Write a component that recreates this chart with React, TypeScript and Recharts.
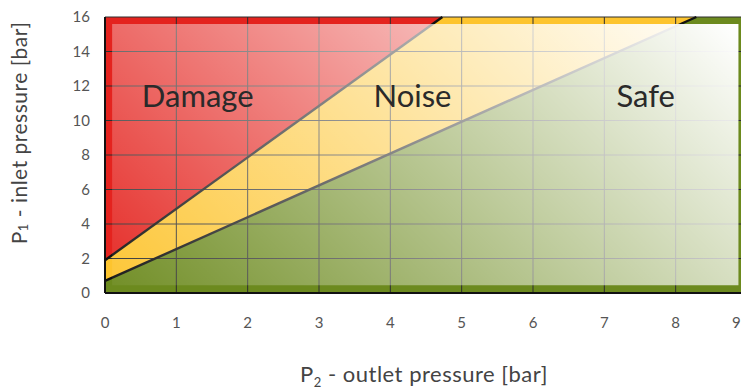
import {
  ComposedChart,
  Area,
  Line,
  XAxis,
  YAxis,
  CartesianGrid,
  ReferenceArea,
  ReferenceDot,
} from 'recharts'

// P2 (outlet) ticks and P1 (inlet) ticks
const xTicks = [0, 1, 2, 3, 4, 5, 6, 7, 8, 9]
const yTicks = [0, 2, 4, 6, 8, 10, 12, 14, 16]

// border between damage and noise zone
const damageEdge = [
  { p2: 0, p1: 1.9 },
  { p2: 4.73, p1: 16 },
]
// border between noise and safe zone
const safeEdge = [
  { p2: 0, p1: 0.7 },
  { p2: 8.29, p1: 16 },
]
// top right corner of the plot, closes the zone fills
const corner = { p2: 9, p1: 16 }

const zoneNames = ['Damage', 'Noise', 'Safe']
const zoneX = [1.3, 4.31, 7.58]
const zoneY = [11.4, 11.4, 11.4]

const RED = '#e4231e'
const YELLOW = '#fdc42e'
const GREEN = '#6c8a1e'

function XTick({ x, y, payload }: any) {
  // last label is pulled inside so it stays on the page
  const last = payload.value === 9
  return (
    <text
      x={last ? x - 15 : x}
      y={y}
      dy="0.71em"
      textAnchor={last ? 'start' : 'middle'}
      fill="#555"
      fontSize={15}
    >
      {payload.value}
    </text>
  )
}

function YTitle({ viewBox }: any) {
  const cx = viewBox.x + 18
  const cy = viewBox.y + viewBox.height / 2 - 22
  return (
    <text
      transform={`translate(${cx},${cy}) rotate(-90)`}
      textAnchor="middle"
      dominantBaseline="central"
      fill="#444"
      fontSize={21}
      letterSpacing={0.5}
    >
      P<tspan dy={5} fontSize={13}>1</tspan>
      <tspan dy={-5}> - inlet pressure [bar]</tspan>
    </text>
  )
}

function XTitle({ viewBox }: any) {
  const cx = viewBox.x + viewBox.width / 2 - 2
  const cy = viewBox.y + 89
  return (
    <text
      x={cx}
      y={cy}
      textAnchor="middle"
      fill="#444"
      fontSize={22}
      letterSpacing={0.5}
    >
      P<tspan dy={5} fontSize={13}>2</tspan>
      <tspan dy={-5}> - outlet pressure [bar]</tspan>
    </text>
  )
}

export default function App() {
  return (
    <div
      style={{
        position: 'absolute',
        left: 0,
        top: 0,
        width: 741,
        height: 392,
        overflow: 'hidden',
        background: '#fff',
        fontFamily: 'Lato, sans-serif',
      }}
    >
      <ComposedChart
        width={760}
        height={392}
        margin={{ top: 17, right: 13, bottom: 0, left: 0 }}
      >
        <defs>
          <linearGradient id="sheen" x1="0" y1="1" x2="1.2" y2="0.5">
            <stop offset="0" stopColor="#fff" stopOpacity={0.05} />
            <stop offset="1" stopColor="#fff" stopOpacity={1} />
          </linearGradient>
        </defs>
        <XAxis
          dataKey="p2"
          type="number"
          domain={[0, 9]}
          ticks={xTicks}
          height={99}
          tickLine={false}
          tickSize={0}
          tickMargin={24}
          axisLine={{ stroke: '#111', strokeWidth: 2 }}
          tick={<XTick />}
          label={{ content: <XTitle /> }}
          zIndex={500}
        />
        <YAxis
          dataKey="p1"
          type="number"
          domain={[0, 16]}
          ticks={yTicks}
          width={105}
          tickLine={false}
          tickSize={0}
          tickMargin={15}
          axisLine={{ stroke: '#111', strokeWidth: 2 }}
          tick={{ fill: '#555', fontSize: 15 }}
          label={{ content: <YTitle /> }}
          zIndex={500}
        />
        <ReferenceArea
          x1={0}
          x2={9}
          y1={0}
          y2={16}
          fill={RED}
          fillOpacity={1}
          stroke="none"
          zIndex={50}
        />
        <Area
          data={[...damageEdge, corner]}
          dataKey="p1"
          type="linear"
          fill={YELLOW}
          fillOpacity={1}
          stroke="none"
          isAnimationActive={false}
          zIndex={100}
        />
        <Area
          data={[...safeEdge, corner]}
          dataKey="p1"
          type="linear"
          fill={GREEN}
          fillOpacity={1}
          stroke="none"
          isAnimationActive={false}
          zIndex={110}
        />
        <CartesianGrid stroke="#2e2e2e" strokeWidth={1} zIndex={150} />
        <Line
          data={damageEdge}
          dataKey="p1"
          type="linear"
          stroke="#111"
          strokeWidth={2.4}
          dot={false}
          isAnimationActive={false}
          zIndex={200}
        />
        <Line
          data={safeEdge}
          dataKey="p1"
          type="linear"
          stroke="#111"
          strokeWidth={2.4}
          dot={false}
          isAnimationActive={false}
          zIndex={200}
        />
        <ReferenceArea
          x1={0.1}
          x2={8.88}
          y1={0.45}
          y2={15.6}
          fill="url(#sheen)"
          fillOpacity={1}
          stroke="none"
          zIndex={300}
        />
        {zoneNames.map((name, i) => (
          <ReferenceDot
            key={name}
            x={zoneX[i]}
            y={zoneY[i]}
            r={0}
            fill="none"
            stroke="none"
            label={{ value: name, position: 'center', fontSize: 31, fill: '#2a2a2a' }}
            zIndex={400}
          />
        ))}
      </ComposedChart>
    </div>
  )
}
